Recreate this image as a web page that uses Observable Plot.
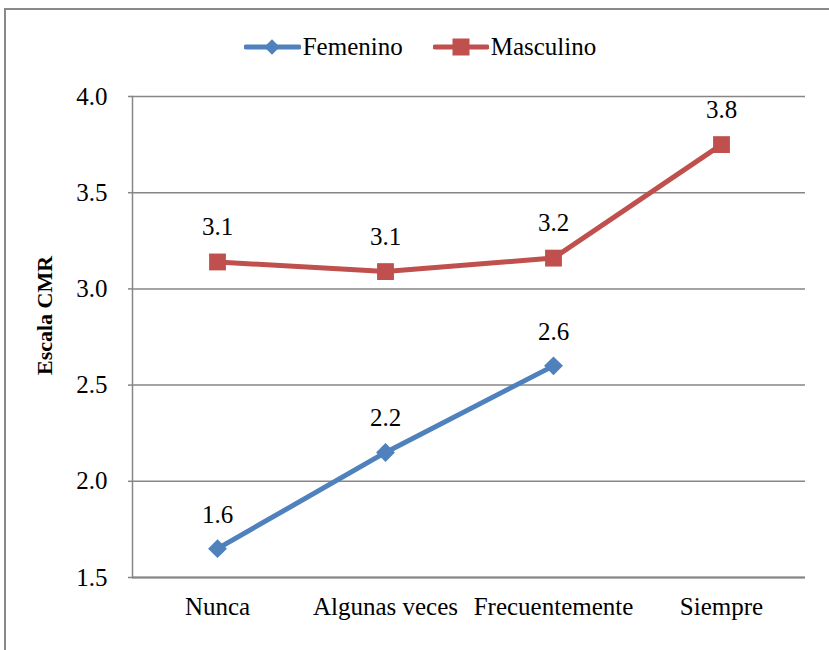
<!DOCTYPE html>
<html>
<head>
<meta charset="utf-8">
<script src="https://cdn.jsdelivr.net/npm/d3@7"></script>
<script src="https://cdn.jsdelivr.net/npm/@observablehq/plot@0.6"></script>
<style>
  body { margin: 0; background: #fff; font-family: "Liberation Serif", "Times New Roman", "DejaVu Serif", serif; }
  #wrap { position: relative; width: 829px; height: 650px; overflow: hidden; }
  #border { position: absolute; left: 4px; top: 8px; width: 840px; height: 660px; border: 2px solid #898989; box-sizing: border-box; }
  #legend { position: relative; height: 70px; display: flex; justify-content: center; align-items: center; gap: 30px; font-size: 25px; color: #000; padding-left: 11px; padding-top: 24px; box-sizing: border-box; }
  .item { display: flex; align-items: center; gap: 2px; }
  #chart { position: relative; }
  #chart svg, #chart svg text { font-family: "Liberation Serif", "Times New Roman", "DejaVu Serif", serif !important; }
</style>
</head>
<body>
<div id="wrap">
  <div id="border"></div>
  <div id="legend"></div>
  <div id="chart"></div>
</div>
<script>
const categories = ["Nunca", "Algunas veces", "Frecuentemente", "Siempre"];
const femenino = [1.65, 2.15, 2.60];
const masculino = [3.14, 3.09, 3.16, 3.75];
const femeninoLabels = ["1.6", "2.2", "2.6"];
const masculinoLabels = ["3.1", "3.1", "3.2", "3.8"];
const yTicks = [1.5, 2.0, 2.5, 3.0, 3.5, 4.0];
const seriesNames = ["Femenino", "Masculino"];
const colors = ["#4F81BD", "#C0504D"];

const fem = femenino.map((v, i) => ({cat: categories[i], v, label: femeninoLabels[i]}));
const mas = masculino.map((v, i) => ({cat: categories[i], v, label: masculinoLabels[i]}));

// Legend
const legend = document.getElementById("legend");
seriesNames.forEach((name, i) => {
  const it = document.createElement("div");
  it.className = "item";
  const sym = i === 0
    ? `<svg width="57" height="20"><line x1="2" y1="10" x2="55" y2="10" stroke="${colors[i]}" stroke-width="5" stroke-linecap="round"/><rect x="22.5" y="4.5" width="11" height="11" fill="${colors[i]}" transform="rotate(45 28 10)"/></svg>`
    : `<svg width="56" height="20"><line x1="2" y1="10" x2="54" y2="10" stroke="${colors[i]}" stroke-width="5" stroke-linecap="round"/><rect x="19.5" y="1.5" width="17" height="17" fill="${colors[i]}"/></svg>`;
  it.innerHTML = sym + `<span>${name}</span>`;
  legend.appendChild(it);
});

const plot = Plot.plot({
  width: 829,
  height: 580,
  marginTop: 26,
  marginBottom: 73,
  marginLeft: 132,
  marginRight: 24,
  style: {fontFamily: "'Liberation Serif', 'Times New Roman', serif", fontSize: "25px", color: "#000", background: "transparent"},
  x: {domain: categories, type: "point", padding: 0.5, label: null},
  y: {domain: [1.5, 4.0], ticks: yTicks, label: null},
  marks: [
    Plot.gridY(yTicks, {stroke: "#868686", strokeOpacity: 1, strokeWidth: 1.5}),
    Plot.axisY(yTicks, {tickSize: 4, tickPadding: 21, tickFormat: d3.format(".1f"), stroke: "#868686", strokeWidth: 1.5, fontSize: 25}),
    Plot.axisX({tickSize: 0, tickPadding: 20, fontSize: 25}),
    Plot.frame({anchor: "left", stroke: "#868686", strokeWidth: 1.5}),
    Plot.ruleY([1.5], {stroke: "#868686", strokeWidth: 2}),
    Plot.line(fem, {x: "cat", y: "v", stroke: colors[0], strokeWidth: 5}),
    Plot.line(mas, {x: "cat", y: "v", stroke: colors[1], strokeWidth: 5}),
    Plot.dot(fem, {x: "cat", y: "v", symbol: "diamond2", r: 8.5, fill: colors[0], stroke: null}),
    Plot.dot(mas, {x: "cat", y: "v", symbol: "square", r: 9.5, fill: colors[1], stroke: null}),
    Plot.text(fem, {x: "cat", y: "v", text: "label", dy: -34, fontSize: 25, fill: "#000"}),
    Plot.text(mas, {x: "cat", y: "v", text: "label", dy: -35, fontSize: 25, fill: "#000"}),
    Plot.text(["Escala CMR"], {frameAnchor: "left", text: d => d, rotate: -90, dx: -88, dy: 38, fontWeight: "bold", fontSize: 22, fill: "#000"})
  ]
});
document.getElementById("chart").appendChild(plot);
</script>
</body>
</html>
